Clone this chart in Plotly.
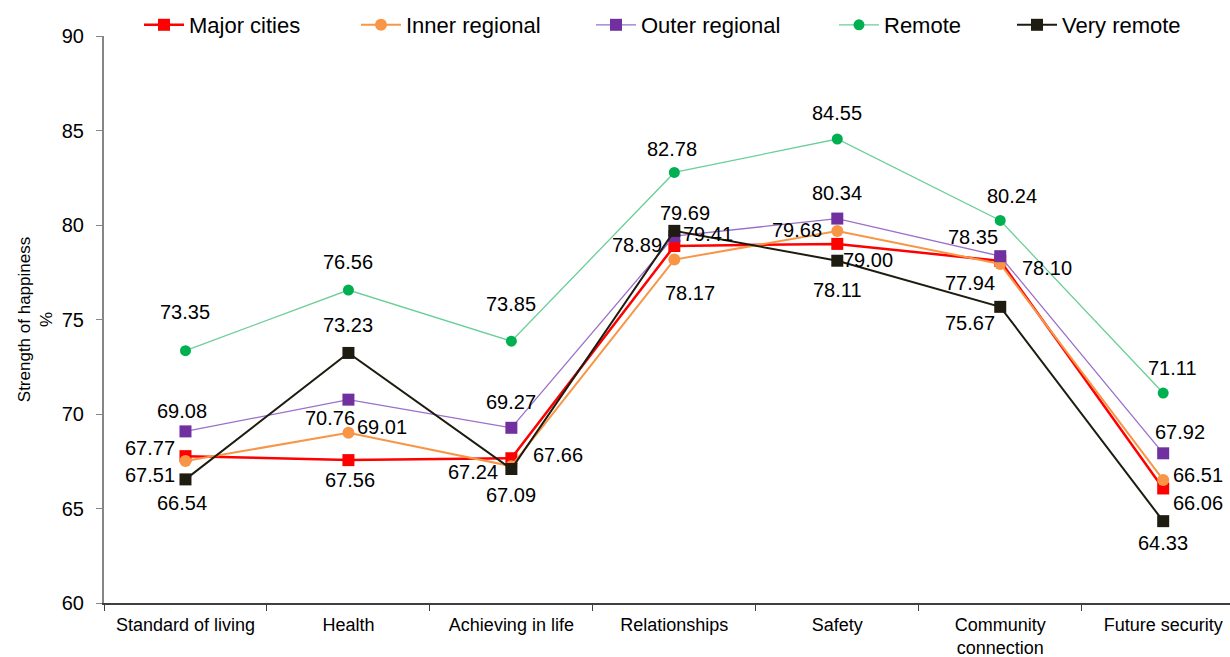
import plotly.graph_objects as go

categories = ["Standard of living", "Health", "Achieving in life", "Relationships",
              "Safety", "Community<br>connection", "Future security"]

major_cities = [67.77, 67.56, 67.66, 78.89, 79.00, 78.10, 66.06]
inner_regional = [67.51, 69.01, 67.24, 78.17, 79.68, 77.94, 66.51]
outer_regional = [69.08, 70.76, 69.27, 79.41, 80.34, 78.35, 67.92]
remote = [73.35, 76.56, 73.85, 82.78, 84.55, 80.24, 71.11]
very_remote = [66.54, 73.23, 67.09, 79.69, 78.11, 75.67, 64.33]

series = [
    ("Major cities", major_cities),
    ("Inner regional", inner_regional),
    ("Outer regional", outer_regional),
    ("Remote", remote),
    ("Very remote", very_remote),
]

# styles
styles = {
    "Major cities": dict(line="#FF0000", lw=2.5, marker="#FF0000", symbol="square", size=12),
    "Inner regional": dict(line="#F79646", lw=2, marker="#F79646", symbol="circle", size=12),
    "Outer regional": dict(line="#9A6FCB", lw=1.3, marker="#7030A0", symbol="square", size=12),
    "Remote": dict(line="#6ACF97", lw=1.3, marker="#00B050", symbol="circle", size=11),
    "Very remote": dict(line="#1E1C10", lw=2, marker="#1E1C10", symbol="square", size=12),
}

# label offsets in pixels (dx right, dy down)
label_offsets = {
    "Major cities": [(-35, -8), (2, 20), (47, -3), (-37, -1), (31, 16), (47, 7), (35, 15)],
    "Inner regional": [(-35, 14), (34, -6), (-38, 6), (16, 33), (-40, -1), (-30, 19), (35, -5)],
    "Outer regional": [(-3, -20), (-18, 18), (0, -26), (34, -2), (0, -26), (-27, -19), (17, -21)],
    "Remote": [(0, -39), (0, -28), (0, -37), (-2, -23), (0, -26), (12, -24), (9, -25)],
    "Very remote": [(-3, 24), (0, -28), (0, 26), (11, -18), (0, 29), (-30, 16), (0, 22)],
}

# legend text start positions (px)
legend_text_x = [190, 407, 642, 885, 1063]

W, H = 1230, 657
ML, MR, MT, MB = 104, 0, 36, 54

fig = go.Figure()
annotations = []
layout_legends = {}
for i, (name, vals) in enumerate(series):
    st = styles[name]
    lg = "legend" if i == 0 else f"legend{i+1}"
    fig.add_trace(go.Scatter(
        x=categories, y=vals, name=name, mode="lines+markers",
        line=dict(color=st["line"], width=st["lw"]),
        marker=dict(color=st["marker"], symbol=st["symbol"], size=st["size"]),
        legend=lg,
    ))
    layout_legends[lg] = dict(
        xref="container", yref="container",
        x=(legend_text_x[i] - 51) / W, xanchor="left",
        y=1 - 25 / H, yanchor="middle",
        orientation="h", bgcolor="rgba(0,0,0,0)",
        font=dict(family="Liberation Sans, Arial", size=22, color="#000000"),
        itemwidth=40,
    )
    for j, v in enumerate(vals):
        dx, dy = label_offsets[name][j]
        annotations.append(dict(
            x=categories[j], y=v, xref="x", yref="y", text=f"{v:.2f}",
            showarrow=False, xshift=dx, yshift=-dy,
            font=dict(family="Liberation Sans, Arial", size=20, color="#000000"),
        ))

fig.update_layout(
    width=W, height=H,
    margin=dict(l=ML, r=MR, t=MT, b=MB, autoexpand=False),
    paper_bgcolor="white", plot_bgcolor="white",
    font=dict(family="Liberation Sans, Arial", color="#000000"),
    annotations=annotations,
    showlegend=True,
    **layout_legends,
)

fig.update_xaxes(
    range=[-0.5, 6.41], showgrid=False, showline=True, linecolor="#404040", linewidth=2,
    ticks="outside", tickson="boundaries", ticklen=6, tickcolor="#404040", tickwidth=1,
    ticklabelstandoff=4,
    tickfont=dict(size=18, color="#000000"), zeroline=False, automargin=False,
)
fig.update_yaxes(
    range=[60, 90], dtick=5, showgrid=False, showline=True, linecolor="#868686", linewidth=2,
    ticks="outside", ticklen=6, tickcolor="#868686", tickwidth=1, ticklabelstandoff=8,
    tickfont=dict(size=20, color="#000000"), zeroline=False, automargin=False,
    title=dict(text="Strength of happiness<br>%", font=dict(size=17, color="#000000"), standoff=5),
)

fig.write_html(
    "out.html",
    config={"displayModeBar": False},
    post_script="document.body.style.margin='0';document.body.style.overflow='hidden';",
)
